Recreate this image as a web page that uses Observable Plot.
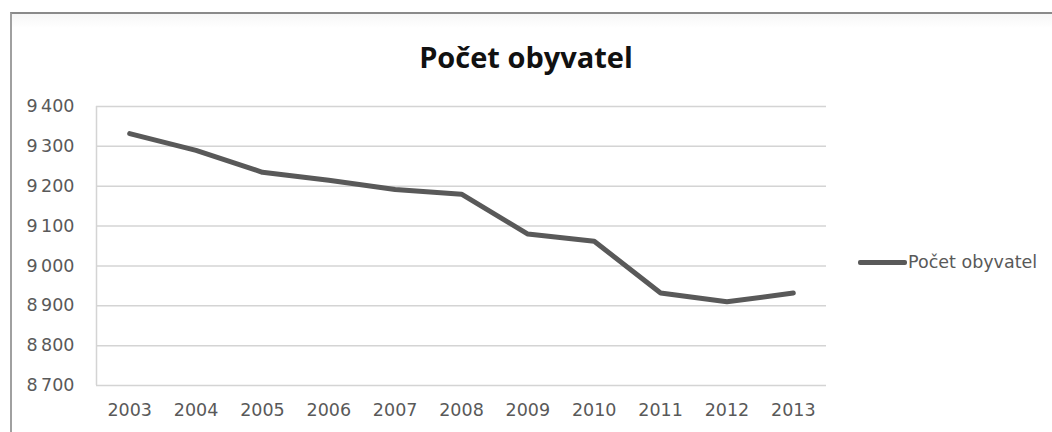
<!DOCTYPE html>
<html>
<head>
<meta charset="utf-8">
<script src="https://cdn.jsdelivr.net/npm/d3@7"></script>
<script src="https://cdn.jsdelivr.net/npm/@observablehq/plot@0.6"></script>
<style>
  html, body { margin: 0; padding: 0; background: #fff; width: 1052px; height: 432px; overflow: hidden; }
  #frame { position: absolute; left: 10px; top: 12px; width: 1060px; height: 440px;
           border-top: 2px solid #8a8a8a; border-left: 2px solid #a0a0a0;
           background: linear-gradient(#f6f6f6, #ffffff 14px); }
  #chart { position: absolute; left: 0; top: 0; }
  #title { position: absolute; left: 0; width: 1052px; top: 38px; text-align: center;
           font-family: "Open Sans", sans-serif; font-weight: bold; font-size: 29px; color: #111; line-height: 38px; }
  #legend { position: absolute; left: 858px; top: 250px; height: 24px; display: flex; align-items: center;
            font-family: "DejaVu Sans", sans-serif; font-size: 17.5px; color: #595959; }
  #legend .sw { width: 49px; height: 5px; background: #595959; border-radius: 2px; margin-right: 1px; }
</style>
</head>
<body>
<div id="frame"></div>
<div id="chart"></div>
<div id="title">Počet obyvatel</div>
<div id="legend"><span class="sw"></span><span>Počet obyvatel</span></div>
<script>
const years = [2003, 2004, 2005, 2006, 2007, 2008, 2009, 2010, 2011, 2012, 2013];
const population = [9332, 9290, 9235, 9215, 9192, 9180, 9080, 9062, 8932, 8910, 8932];
const yTicks = [8700, 8800, 8900, 9000, 9100, 9200, 9300, 9400];
const seriesName = "Počet obyvatel";

const data = years.map((year, i) => ({year, value: population[i]}));
const fmt = d => d3.format(",")(d).replace(",", "\u2009");

const chart = Plot.plot({
  width: 1052,
  height: 432,
  marginLeft: 96,
  marginRight: 226,
  marginTop: 106,
  marginBottom: 47,
  style: {fontFamily: "DejaVu Sans, sans-serif", fontSize: "17.5px", color: "#595959", background: "transparent"},
  x: {domain: [2002.5, 2013.5]},
  y: {domain: [8700, 9400]},
  marks: [
    Plot.ruleY(yTicks, {stroke: "#d4d4d4", strokeWidth: 1.5}),
    Plot.ruleX([2002.5], {stroke: "#d4d4d4", strokeWidth: 1.5}),
    Plot.axisY({ticks: yTicks, tickFormat: fmt, tickSize: 0, tickPadding: 22, label: null, fontSize: 17.5}),
    Plot.axisX({ticks: years, tickFormat: d => String(d), tickSize: 0, tickPadding: 18, label: null, fontSize: 17.5}),
    Plot.line(data, {x: "year", y: "value", stroke: "#595959", strokeWidth: 5,
                     strokeLinejoin: "round", strokeLinecap: "round", title: () => seriesName})
  ]
});
document.getElementById("chart").appendChild(chart);
</script>
</body>
</html>
